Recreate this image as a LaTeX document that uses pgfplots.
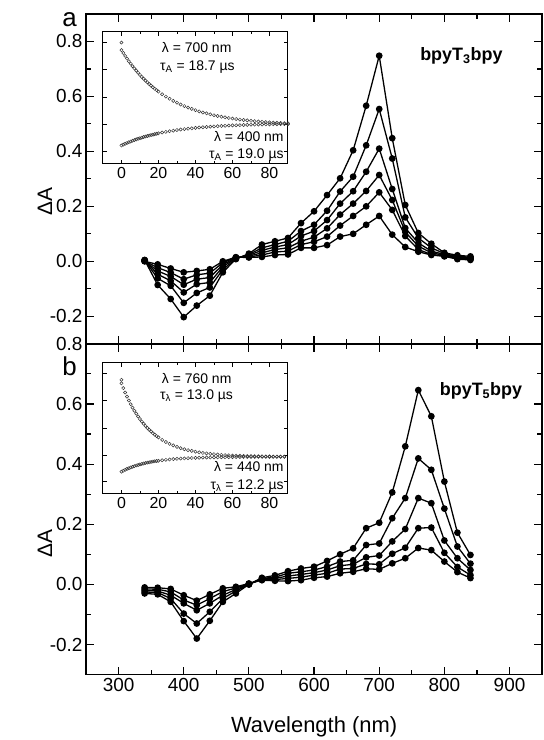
\documentclass[border=0pt]{standalone}
\usepackage{fontspec}
\setmainfont{Liberation Sans}
\usepackage{pgfplots}
\usepackage{pgfplotstable}
\pgfplotsset{compat=1.18}

% transient spectra, panel a (bpyT3bpy), six delays
\pgfplotstableread{
wl   c1     c2     c3     c4     c5     c6
340  0.005  0.004  0.003  0.002  0.001  0.000
360 -0.086 -0.062 -0.047 -0.035 -0.023 -0.011
380 -0.137 -0.089 -0.071 -0.055 -0.041 -0.026
400 -0.203 -0.151 -0.113 -0.085 -0.065 -0.040
420 -0.161 -0.115 -0.083 -0.065 -0.049 -0.035
440 -0.125 -0.095 -0.077 -0.059 -0.043 -0.029
460 -0.040 -0.030 -0.020 -0.012 -0.005  0.000
480  0.008  0.010  0.012  0.013  0.014  0.015
500  0.028  0.025  0.022  0.019  0.016  0.014
520  0.061  0.049  0.040  0.031  0.023  0.016
540  0.073  0.061  0.052  0.043  0.034  0.023
560  0.085  0.073  0.061  0.049  0.037  0.025
580  0.139  0.110  0.092  0.073  0.061  0.049
600  0.182  0.133  0.110  0.088  0.071  0.049
620  0.241  0.184  0.150  0.120  0.090  0.059
640  0.302  0.254  0.210  0.170  0.130  0.090
660  0.404  0.308  0.255  0.210  0.165  0.100
680  0.566  0.422  0.326  0.256  0.200  0.133
700  0.748  0.554  0.410  0.314  0.251  0.165
720  0.448  0.374  0.263  0.223  0.187  0.097
740  0.205  0.160  0.121  0.107  0.092  0.052
760  0.103  0.085  0.067  0.055  0.043  0.035
780  0.064  0.049  0.037  0.031  0.025  0.023
800  0.031  0.028  0.025  0.022  0.020  0.018
820  0.022  0.018  0.015  0.012  0.010  0.008
840  0.018  0.015  0.012  0.010  0.008  0.005
}\specA

% panel b (bpyT5bpy), five delays
\pgfplotstableread{
wl   c1     c2     c3     c4     c5
340 -0.030 -0.025 -0.020 -0.015 -0.010
360 -0.033 -0.027 -0.022 -0.016 -0.011
380 -0.058 -0.047 -0.036 -0.025 -0.015
400 -0.122 -0.097 -0.063 -0.052 -0.036
420 -0.180 -0.130 -0.086 -0.069 -0.054
440 -0.121 -0.091 -0.063 -0.047 -0.033
460 -0.058 -0.047 -0.036 -0.024 -0.013
480 -0.030 -0.022 -0.017 -0.012 -0.008
500  0.000  0.000  0.001  0.002  0.003
520  0.022  0.020  0.018  0.016  0.014
540  0.030  0.024  0.020  0.016  0.012
560  0.044  0.037  0.028  0.020  0.011
580  0.053  0.042  0.033  0.024  0.014
600  0.059  0.048  0.039  0.031  0.022
620  0.078  0.059  0.048  0.037  0.026
640  0.100  0.076  0.062  0.051  0.037
660  0.120  0.080  0.067  0.053  0.042
680  0.187  0.131  0.090  0.068  0.052
700  0.205  0.136  0.096  0.067  0.050
720  0.306  0.220  0.143  0.102  0.070
740  0.459  0.287  0.184  0.122  0.087
760  0.646  0.419  0.287  0.187  0.121
780  0.559  0.381  0.270  0.189  0.114
800  0.342  0.252  0.146  0.105  0.076
820  0.172  0.126  0.087  0.058  0.041
840  0.098  0.069  0.048  0.031  0.021
}\specB

% kinetics in the insets (arbitrary units, 0..1 of the inset height)
\pgfplotstableread{
t  a700  a400
0  0.860 0.138
1  0.838 0.145
2  0.816 0.151
3  0.796 0.157
4  0.776 0.163
5  0.757 0.168
6  0.738 0.174
7  0.721 0.179
8  0.704 0.184
9  0.688 0.189
10 0.672 0.193
11 0.657 0.197
12 0.643 0.202
13 0.629 0.206
14 0.616 0.210
15 0.603 0.213
16 0.591 0.217
17 0.579 0.220
18 0.567 0.224
19 0.557 0.227
20 0.546 0.230
22 0.526 0.236
24 0.508 0.241
26 0.492 0.246
28 0.476 0.250
30 0.462 0.255
32 0.448 0.259
34 0.436 0.262
36 0.425 0.265
38 0.415 0.268
40 0.405 0.271
42 0.396 0.274
44 0.388 0.276
46 0.381 0.278
48 0.374 0.280
50 0.367 0.282
52 0.361 0.284
54 0.356 0.286
56 0.351 0.287
58 0.346 0.289
60 0.342 0.290
62 0.338 0.291
64 0.334 0.292
66 0.331 0.293
68 0.328 0.294
70 0.325 0.295
72 0.322 0.296
74 0.320 0.296
76 0.317 0.297
78 0.315 0.298
80 0.313 0.298
82 0.311 0.299
84 0.310 0.299
86 0.308 0.300
88 0.307 0.300
90 0.306 0.300
}\kinA

\pgfplotstableread{
t  b760  b440
0  0.843 0.170
1  0.807 0.177
2  0.773 0.184
3  0.742 0.191
4  0.712 0.196
5  0.684 0.202
6  0.658 0.207
7  0.634 0.212
8  0.612 0.217
9  0.590 0.221
10 0.571 0.225
11 0.552 0.229
12 0.535 0.232
13 0.518 0.236
14 0.503 0.239
15 0.489 0.241
16 0.476 0.244
17 0.463 0.247
18 0.452 0.249
19 0.441 0.251
20 0.431 0.253
22 0.412 0.257
24 0.396 0.260
26 0.382 0.263
28 0.370 0.266
30 0.359 0.268
32 0.349 0.270
34 0.341 0.271
36 0.334 0.273
38 0.328 0.274
40 0.322 0.275
42 0.317 0.276
44 0.313 0.277
46 0.309 0.278
48 0.306 0.278
50 0.303 0.279
52 0.301 0.279
54 0.298 0.280
56 0.296 0.280
58 0.295 0.281
60 0.293 0.281
62 0.292 0.281
64 0.291 0.282
66 0.290 0.282
68 0.289 0.282
70 0.288 0.282
72 0.288 0.282
74 0.287 0.283
76 0.287 0.283
78 0.286 0.283
80 0.286 0.283
82 0.285 0.283
84 0.285 0.283
86 0.285 0.283
88 0.285 0.283
}\kinB

\pgfplotsset{
  spec/.style={
    scale only axis, width=457.7pt,
    xmin=250, xmax=950,
    xtick={300,400,...,900}, minor xtick={350,450,...,850},
    ytick={-0.2,0,...,0.8},
    tick align=inside,
    major tick length=8pt, minor tick length=5pt,
    tick style={line width=1.2pt, black},
    axis line style={line width=1.6pt},
    tick label style={font=\fontsize{19}{21}\selectfont},
    /pgf/number format/assume math mode=true,
    yticklabel style={/pgf/number format/fixed,
      /pgf/number format/fixed zerofill, /pgf/number format/precision=1},
    clip=false,
  },
  curve/.style={black, line width=1.3pt, mark=*, mark size=2.7pt},
  inset/.style={
    scale only axis, width=185.7pt,
    xmin=-10, xmax=90, ymin=0, ymax=1,
    xtick={0,20,...,80}, minor xtick={10,30,50,70},
    ytick={0.093,0.296,0.5,0.711,0.915}, yticklabels={},
    tick align=inside,
    major tick length=4pt, minor tick length=2.5pt,
    tick style={line width=0.8pt, black},
    axis line style={line width=1pt},
    tick label style={font=\fontsize{16}{18}\selectfont},
    /pgf/number format/assume math mode=true,
    axis background/.style={fill=white},
  },
  kin/.style={only marks, mark=o, mark size=1.6pt, black!80,
    mark options={line width=0.5pt}},
}

\begin{document}
\begin{tikzpicture}
\path (0,0) rectangle (545pt,740pt);

% ---- panel b (bottom)
\begin{axis}[spec, at={(86.3pt,63pt)}, anchor=south west, height=332pt,
    ymin=-0.3, ymax=0.8, minor ytick={-0.1,0.1,0.3,0.5,0.7}]
  \foreach \c in {c1,c2,c3,c4,c5} {
    \addplot[curve] table[x=wl, y=\c] {\specB};
  }
  \node[font=\fontsize{21}{23}\selectfont, rotate=90] at (rel axis cs:-0.09,0.395) {ΔA};
  \node[font=\fontsize{26}{28}\selectfont, inner sep=0pt, anchor=north] at (rel axis cs:-0.036,0.962) {b};
  \node[font=\bfseries\fontsize{18}{20}\selectfont] at (rel axis cs:0.866,0.858) {bpyT\textsubscript{5}bpy};
  \node[font=\fontsize{22}{24}\selectfont] at (rel axis cs:0.5,0) [yshift=-52pt] {Wavelength (nm)};
\end{axis}

% ---- panel a (top)
\begin{axis}[spec, at={(86.3pt,395pt)}, anchor=south west, height=331pt,
    ymin=-0.3, ymax=0.9, minor ytick={-0.1,0.1,0.3,0.5,0.7,0.9},
    xticklabels={}]
  \foreach \c in {c1,c2,c3,c4,c5,c6} {
    \addplot[curve] table[x=wl, y=\c] {\specA};
  }
  \node[font=\fontsize{21}{23}\selectfont, rotate=90] at (rel axis cs:-0.09,0.43) {ΔA};
  \node[font=\fontsize{26}{28}\selectfont] at (rel axis cs:-0.036,0.982) {a};
  \node[font=\bfseries\fontsize{18}{20}\selectfont] at (rel axis cs:0.823,0.873) {bpyT\textsubscript{3}bpy};
\end{axis}

% ---- inset a
\begin{axis}[inset, at={(103.3pt,575.7pt)}, anchor=south west, height=132.6pt]
  \addplot[kin] table[x=t, y=a700] {\kinA};
  \addplot[kin] table[x=t, y=a400] {\kinA};
  \addplot[kin] coordinates {(0,0.917)};
  \begin{scope}[font=\fontsize{14}{16}\selectfont]
    \node[anchor=west] at (rel axis cs:0.30,0.877) {λ = 700 nm};
    \node[anchor=west] at (rel axis cs:0.29,0.734) {τ\textsubscript{A} = 18.7 µs};
    \node[anchor=east] at (rel axis cs:0.995,0.206) {λ = 400 nm};
    \node[anchor=east] at (rel axis cs:0.995,0.063) {τ\textsubscript{A} = 19.0 µs};
  \end{scope}
  \node[font=\fontsize{21}{23}\selectfont] at (rel axis cs:0.515,-0.27) {time (µs)};
\end{axis}

% ---- inset b
\begin{axis}[inset, at={(103.3pt,244.3pt)}, anchor=south west, height=131.7pt]
  \addplot[kin] table[x=t, y=b760] {\kinB};
  \addplot[kin] table[x=t, y=b440] {\kinB};
  \addplot[kin] coordinates {(0,0.87)};
  \begin{scope}[font=\fontsize{14}{16}\selectfont]
    \node[anchor=west] at (rel axis cs:0.30,0.882) {λ = 760 nm};
    \node[anchor=west] at (rel axis cs:0.29,0.749) {τ\textsubscript{λ} = 13.0 µs};
    \node[anchor=east] at (rel axis cs:0.995,0.21) {λ = 440 nm};
    \node[anchor=east] at (rel axis cs:0.995,0.059) {τ\textsubscript{λ} = 12.2 µs};
  \end{scope}
  \node[font=\fontsize{21}{23}\selectfont] at (rel axis cs:0.515,-0.275) {time (µs)};
\end{axis}
\end{tikzpicture}
\end{document}
